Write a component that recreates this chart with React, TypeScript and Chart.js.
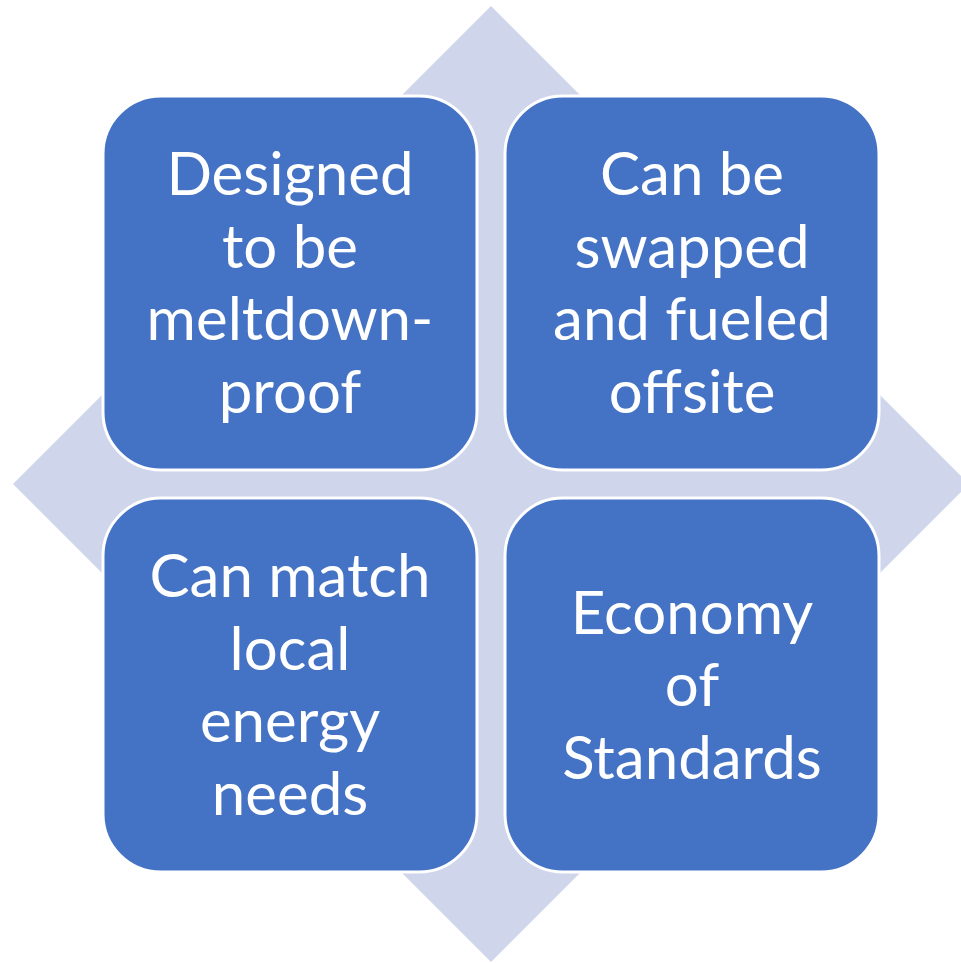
import React, { useEffect, useRef } from "react";
import { Chart, registerables } from "chart.js";

Chart.register(...registerables);

// ---- data ----
const tileLines: string[][] = [
  ["Designed", "to be", "meltdown-", "proof"],
  ["Can be", "swapped", "and fueled", "offsite"],
  ["Can match", "local", "energy", "needs"],
  ["Economy", "of", "Standards"],
];
const tileColumn = [-1, 1, -1, 1];
const tileRow = [1, 1, -1, -1];
const diamondX = [0, 1, 0, -1, 0];
const diamondY = [1, 0, -1, 0, 1];

// ---- layout / style ----
const UNIT = 478;
const TILE_OFFSET = 201 / UNIT;
const TILE_HALF = 187 / UNIT;
const TILE_RADIUS = 58;
const LINE_STEP = 72.5;
const BASE_SHIFT = 21;
const FONT = '60px "Lato", "Open Sans", sans-serif';
const TILE_FILL = "#4472C4";
const DIAMOND_FILL = "#CFD5EA";

const tilesPlugin = {
  id: "tiles",
  afterDatasetsDraw(chart: any) {
    const { ctx, scales } = chart;
    const xs = scales.x;
    const ys = scales.y;
    tileLines.forEach((lines, i) => {
      const cx = tileColumn[i] * TILE_OFFSET;
      const cy = tileRow[i] * TILE_OFFSET;
      const left = xs.getPixelForValue(cx - TILE_HALF);
      const right = xs.getPixelForValue(cx + TILE_HALF);
      const top = ys.getPixelForValue(cy + TILE_HALF);
      const bottom = ys.getPixelForValue(cy - TILE_HALF);
      ctx.save();
      ctx.beginPath();
      ctx.roundRect(left, top, right - left, bottom - top, TILE_RADIUS);
      ctx.fillStyle = TILE_FILL;
      ctx.fill();
      ctx.lineWidth = 3;
      ctx.strokeStyle = "#FFFFFF";
      ctx.stroke();
      ctx.fillStyle = "#FFFFFF";
      ctx.font = FONT;
      ctx.textAlign = "center";
      ctx.textBaseline = "alphabetic";
      const px = xs.getPixelForValue(cx);
      const py = ys.getPixelForValue(cy);
      const n = lines.length;
      lines.forEach((t, j) => {
        ctx.fillText(t, px, py + (j - (n - 1) / 2) * LINE_STEP + BASE_SHIFT);
      });
      ctx.restore();
    });
  },
};

export default function App() {
  const ref = useRef<HTMLCanvasElement | null>(null);
  useEffect(() => {
    document.body.style.margin = "0";
    const chart = new Chart(ref.current as HTMLCanvasElement, {
      type: "scatter",
      data: {
        datasets: [
          {
            data: diamondX.map((x, i) => ({ x, y: diamondY[i] })),
            showLine: true,
            fill: "shape",
            backgroundColor: DIAMOND_FILL,
            borderColor: DIAMOND_FILL,
            borderWidth: 0,
            pointRadius: 0,
            tension: 0,
          } as any,
        ],
      },
      options: {
        animation: false,
        responsive: true,
        maintainAspectRatio: false,
        layout: { padding: 0 },
        plugins: { legend: { display: false }, tooltip: { enabled: false } },
        events: [],
        scales: {
          x: { type: "linear", display: false, min: -491 / UNIT, max: 470 / UNIT },
          y: { type: "linear", display: false, min: -479 / UNIT, max: 484 / UNIT },
        },
      },
      plugins: [tilesPlugin],
    });
    return () => chart.destroy();
  }, []);
  return (
    <div style={{ position: "absolute", left: 0, top: 0, width: 961, height: 963, background: "#FFFFFF" }}>
      <canvas ref={ref} />
    </div>
  );
}
